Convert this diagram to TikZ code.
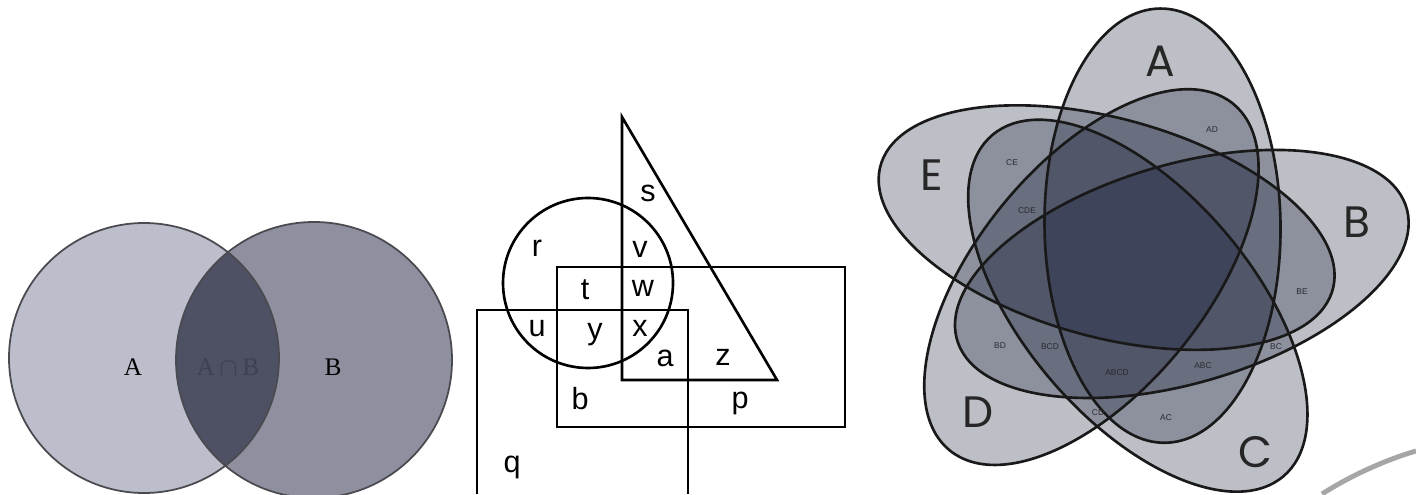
\documentclass[tikz,border=0pt]{standalone}
\usepackage{fontspec}
\setmainfont{Liberation Sans}
\newfontfamily\serifA{Liberation Serif}
\newfontfamily\geoA{Poppins}
\definecolor{cA}{HTML}{BCBFCB}
\definecolor{cB}{HTML}{8E90A0}
\definecolor{cAB}{HTML}{4E5164}
\definecolor{vfill}{HTML}{0E1630}
\definecolor{edgeg}{HTML}{4A4A50}
\definecolor{rlab}{HTML}{2A2A30}
\begin{document}
\begin{tikzpicture}[x=0.01cm,y=0.01cm,
  circedge/.style={draw=edgeg, line width=0.5pt},
  serlab/.style={font=\serifA\fontsize{7.2}{8}\selectfont, anchor=base, inner sep=0},
  setline/.style={draw=black, line width=0.75pt, line join=miter},
  letlab/.style={font=\fontsize{8.7}{10}\selectfont, anchor=base, inner sep=0},
  bigset/.style={font=\geoA\fontsize{12.5}{14}\selectfont, inner sep=0, text=black!85},
  reglab/.style={font=\fontsize{2.4}{3}\selectfont, inner sep=0, text=rlab},
  ellfill/.style={fill=vfill, fill opacity=0.27},
  elledge/.style={draw=black!90, line width=0.75pt}]
\useasboundingbox (0,0) rectangle (1416,494);
\fill[white] (0,0) rectangle (1416,494);

% ---------- two-set Venn ----------
\fill[cA] (144,136) circle (135);
\fill[cB] (314,134) circle (138);
\begin{scope}
  \clip (144,136) circle (135);
  \fill[cAB] (314,134) circle (138);
\end{scope}
\draw[circedge] (144,136) circle (135);
\draw[circedge] (314,134) circle (138);
\node[serlab] (LA) at (133,119) {A};
\node[serlab] (LB) at (333,119) {B};
\node[serlab, text=cAB!80!black] (LAB) at (228,119) {A\,$\cap$\,B};

% ---------- shapes diagram ----------
\draw[setline] (622,377) -- (622,114) -- (777,114) -- cycle;
\draw[setline] (588,211) circle (85);
\draw[setline] (557,67) rectangle (845,227);
\draw[setline] (477,0) -- (477,184) -- (688,184) -- (688,0);
\node[letlab] (ls) at (648,292) {s};
\node[letlab] (lr) at (537,237) {r};
\node[letlab] (lv) at (640,236) {v};
\node[letlab] (lt) at (585,194) {t};
\node[letlab] (lw) at (643,197) {w};
\node[letlab] (lu) at (537,157) {u};
\node[letlab] (ly) at (595,154) {y};
\node[letlab] (lx) at (640,157) {x};
\node[letlab] (la) at (665,127) {a};
\node[letlab] (lz) at (723,128) {z};
\node[letlab] (lb) at (580,84) {b};
\node[letlab] (lp) at (740,86) {p};
\node[letlab] (lq) at (512,22) {q};

% ---------- five-set Venn ----------
\begin{scope}[shift={(1136,232)}, yscale=0.92]
  \foreach \cx/\cy/\t in {26.5/39.5/90.6, 45.8/-13.0/18.6, 1.8/-47.5/-53.4, -44.6/-16.4/-125.4, -29.4/37.4/162.6}
    \fill[ellfill, shift={(\cx,\cy)}, rotate=\t] (0,0) ellipse [x radius=236, y radius=118];
  \foreach \cx/\cy/\t in {26.5/39.5/90.6, 45.8/-13.0/18.6, 1.8/-47.5/-53.4, -44.6/-16.4/-125.4, -29.4/37.4/162.6}
    \draw[elledge, shift={(\cx,\cy)}, rotate=\t] (0,0) ellipse [x radius=236, y radius=118];
\end{scope}
\node[bigset] (SA) at (1160,433) {A};
\node[bigset] (SB) at (1357,272) {B};
\node[bigset] (SC) at (1255,42) {C};
\node[bigset] (SD) at (978,82) {D};
\node[bigset] (SE) at (932,319) {E};
\node[reglab] (rAD) at (1212,364) {AD};
\node[reglab] (rCE) at (1012,331) {CE};
\node[reglab] (rCDE) at (1027,283) {CDE};
\node[reglab] (rBE) at (1302,202) {BE};
\node[reglab] (rBD) at (1000,148) {BD};
\node[reglab] (rBCD) at (1050,147) {BCD};
\node[reglab] (rABCD) at (1117,121) {ABCD};
\node[reglab] (rABC) at (1203,128) {ABC};
\node[reglab] (rAC) at (1166,76) {AC};
\node[reglab] (rBC) at (1276,147) {BC};
\node[reglab] (rCD) at (1098,81) {CD};

% ---------- stray grey arc ----------
\draw[gray!70, line width=1.4pt] (1322,0) .. controls (1350,18) and (1385,34) .. (1416,43);
\end{tikzpicture}
\end{document}
